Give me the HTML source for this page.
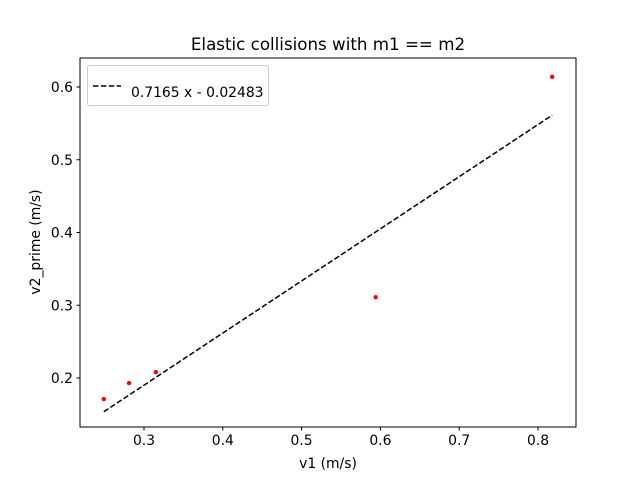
<!DOCTYPE html>
<html><head><meta charset="utf-8"><style>body{margin:0;background:#fff}svg{display:block;font-family:"DejaVu Sans","Liberation Sans",sans-serif}</style></head>
<body>
<svg id="chart" width="640" height="480"></svg>
<script>
const xValues=[0.249,0.281,0.315,0.594,0.818];
const yValues=[0.171,0.193,0.208,0.311,0.614];
const xTicks=[0.3,0.4,0.5,0.6,0.7,0.8];
const yTicks=[0.2,0.3,0.4,0.5,0.6];
const slope=0.7165, intercept=-0.02483;
const fitRange=[0.249,0.818];
const X=v=>144+(v-0.3)*788;
const Y=v=>378-(v-0.2)*727.5;
const svg=document.getElementById('chart');
const NS='http://www.w3.org/2000/svg';
function mk(t,a,p){const e=document.createElementNS(NS,t);for(const k in a)e.setAttribute(k,a[k]);(p||svg).appendChild(e);return e;}
let e;
e=mk('rect',{x:80,y:58,width:496,height:369,fill:'#fff',stroke:'#000','stroke-width':1});


xTicks.forEach(v=>{const x=X(v);
 e=mk('line',{x1:x,x2:x,y1:427,y2:430.5,stroke:'#000'});
 
 
 e=mk('text',{x:x,y:445,'font-size':13.9,'text-anchor':'middle'});e.textContent=v.toFixed(1);
 
 });
yTicks.forEach(v=>{const y=Y(v);
 e=mk('line',{x1:76.5,x2:80,y1:y,y2:y,stroke:'#000'});
 
 
 e=mk('text',{x:73,y:y+5,'font-size':13.9,'text-anchor':'end'});e.textContent=v.toFixed(1);
 
 });
e=mk('line',{x1:X(fitRange[0]),y1:Y(slope*fitRange[0]+intercept),x2:X(fitRange[1]),y2:Y(slope*fitRange[1]+intercept),stroke:'#000','stroke-width':1.5,'stroke-dasharray':'5.5,2.4'});


xValues.forEach((v,i)=>{e=mk('circle',{cx:X(v),cy:Y(yValues[i]),r:2.2,fill:'red'});
 
 });
e=mk('text',{x:328,y:50,'font-size':16.7,'text-anchor':'middle'});e.textContent='Elastic collisions with m1 == m2';


e=mk('text',{x:328,y:468,'font-size':13.9,'text-anchor':'middle'});e.textContent='v1 (m/s)';


e=mk('text',{x:40,y:242,'font-size':13.9,'text-anchor':'middle',transform:'rotate(-90 40 242)'});e.textContent='v2_prime (m/s)';


const g=mk('g',{});


mk('rect',{x:87.5,y:65.5,width:181,height:40,rx:2,fill:'#fff',stroke:'#ccc'},g);
e=mk('line',{x1:93,x2:121,y1:86,y2:86,stroke:'#000','stroke-width':1.5,'stroke-dasharray':'5.5,2.4'},g);


e=mk('text',{x:131,y:97,'font-size':13.9},g);e.textContent='0.7165 x - 0.02483';


</script>
</body></html>
